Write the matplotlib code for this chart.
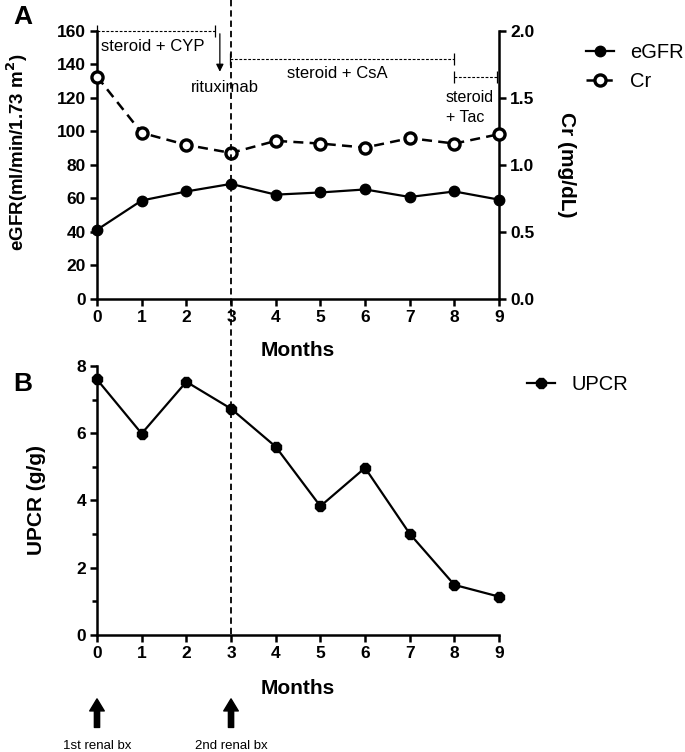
import numpy as np
import matplotlib
matplotlib.use("Agg")
import matplotlib.pyplot as plt
import matplotlib.transforms as mtransforms
from matplotlib.lines import Line2D
from matplotlib.ticker import MultipleLocator, FormatStrFormatter

plt.rcParams['font.family'] = ['Liberation Sans', 'DejaVu Sans']

# data
months = [0, 1, 2, 3, 4, 5, 6, 7, 8, 9]
egfr = [41.3, 58.8, 64.2, 68.7, 62.3, 63.6, 65.4, 60.9, 64.2, 59.3]
cr = [1.66, 1.24, 1.15, 1.09, 1.18, 1.16, 1.13, 1.20, 1.16, 1.23]
upcr = [7.6, 5.99, 7.53, 6.73, 5.6, 3.83, 4.97, 3.01, 1.49, 1.14]
biopsy_months = [0, 3]
biopsy_labels = ["1st renal bx", "2nd renal bx"]

fig = plt.figure(figsize=(6.85, 7.52), dpi=100)
ax1 = fig.add_axes([0.1416, 0.6024, 0.587, 0.3564])
ax2 = fig.add_axes([0.1416, 0.1556, 0.587, 0.3577])
ax1r = ax1.twinx()

def style_axis(ax, right=False):
    for s in ['top'] + ([] if right else ['right']):
        ax.spines[s].set_visible(False)
    for s in ['left', 'bottom', 'right']:
        ax.spines[s].set_linewidth(1.8)
    ax.tick_params(which='major', direction='out', length=5, width=1.8,
                   labelsize=12.5, pad=3)
    ax.tick_params(which='minor', direction='out', length=3.5, width=1.8)
    for lab in ax.get_xticklabels() + ax.get_yticklabels():
        lab.set_fontweight('bold')

# ---- panel A
ax1.plot(months, egfr, color='k', lw=1.6, marker='o', ms=7.5, clip_on=False,
         zorder=5, label='eGFR')
ax1r.plot(months, cr, color='k', lw=1.8, ls=(0, (4, 2.5)), marker='o', ms=8,
          mfc='white', mew=2.4, clip_on=False, zorder=5, label='Cr')
ax1.set_xlim(0, 9)
ax1.set_ylim(0, 160)
ax1r.set_ylim(0, 2.0)
ax1.set_xticks(months)
ax1.set_yticks(np.arange(0, 161, 20))
ax1r.set_yticks(np.arange(0, 2.01, 0.5))
ax1r.yaxis.set_major_formatter(FormatStrFormatter('%.1f'))
ax1r.spines['left'].set_visible(False)
ax1r.spines['bottom'].set_visible(False)
style_axis(ax1)
style_axis(ax1r, right=True)
ax1r.spines['right'].set_linewidth(1.8)

ax1.set_xlabel('Months', fontsize=15, fontweight='bold')
ax1.xaxis.set_label_coords(0.5, -0.155)
ax1.set_ylabel('eGFR(ml/min/1.73 m$^\\mathbf{2}$)', fontsize=13.5, fontweight='bold')
ax1.yaxis.set_label_coords(-0.167, 0.549)
ax1r.set_ylabel('Cr (mg/dL)', fontsize=15, fontweight='bold', rotation=-90,
                va='bottom')
ax1r.yaxis.set_label_coords(1.145, 0.5)

# treatment bars
dash = (0, (2.5, 1.5))
def period(x0, x1, y):
    ax1.plot([x0, x1], [y, y], color='k', lw=0.8, ls=dash, clip_on=False)
    ax1.plot([x0, x1], [y, y], ls='none', marker='|', ms=8, mew=0.9,
             color='k', clip_on=False)

period(0, 2.64, 160)
ax1.text(0.09, 150.5, 'steroid + CYP', fontsize=12, va='center', ha='left')
ax1.annotate('', xy=(2.75, 134), xytext=(2.75, 160),
             arrowprops=dict(arrowstyle='-|>', color='k', lw=0.9,
                             mutation_scale=11), annotation_clip=False)
ax1.text(2.87, 126, 'rituximab', fontsize=12, va='center', ha='center')
period(2.98, 7.99, 143.5)
ax1.text(5.38, 134.5, 'steroid + CsA', fontsize=12, va='center', ha='center')
period(7.99, 8.95, 132.7)
ax1.text(7.81, 124.5, 'steroid\n+ Tac', fontsize=11.5, va='top', ha='left',
         linespacing=1.35)

h_egfr = Line2D([], [], color='k', lw=1.6, marker='o', ms=7.5)
h_cr = Line2D([], [], color='k', lw=1.8, ls=(0, (4, 2.5)), marker='o', ms=8,
              mfc='white', mew=2.4)
fig.legend([h_egfr, h_cr], ['eGFR', 'Cr'], loc='upper left',
           bbox_to_anchor=(0.8286, 0.967), frameon=False, fontsize=14.5,
           handlelength=1.4, handletextpad=0.8, labelspacing=0.5)

# ---- panel B
ax2.plot(months, upcr, color='k', lw=1.6, marker='8', ms=7.5, clip_on=False,
         zorder=5, label='UPCR')
ax2.set_xlim(0, 9)
ax2.set_ylim(0, 8)
ax2.set_xticks(months)
ax2.yaxis.set_major_locator(MultipleLocator(2))
ax2.yaxis.set_minor_locator(MultipleLocator(1))
style_axis(ax2)
ax2.set_xlabel('Months', fontsize=15, fontweight='bold')
ax2.xaxis.set_label_coords(0.5, -0.165)
ax2.set_ylabel('UPCR (g/g)', fontsize=15, fontweight='bold')
ax2.yaxis.set_label_coords(-0.127, 0.5)
fig.legend(loc='upper left', handles=ax2.get_lines(), labels=['UPCR'],
           bbox_to_anchor=(0.743, 0.525), frameon=False, fontsize=14.5,
           handlelength=1.4, handletextpad=0.8)

for m, lab in zip(biopsy_months, biopsy_labels):
    ax2.annotate('', xy=(m, -1.9), xytext=(m, -2.75),
                 arrowprops=dict(arrowstyle='simple,head_length=0.62,head_width=0.75,tail_width=0.27',
                                 color='k', mutation_scale=14, shrinkA=0, shrinkB=0),
                 annotation_clip=False)
    ax2.text(m, -3.3, lab, fontsize=9.5, ha='center', va='center', clip_on=False)

# vertical dashed line at month 3 spanning both panels
trans = mtransforms.blended_transform_factory(ax1.transData, fig.transFigure)
fig.add_artist(Line2D([3, 3], [1.0, 1 - 635 / 752], transform=trans,
                      color='k', lw=1.3, ls=(0, (3.5, 2.2))))

fig.text(0.019, 0.978, 'A', fontsize=19, fontweight='bold', va='center')
fig.text(0.019, 0.489, 'B', fontsize=19, fontweight='bold', va='center')

fig.savefig('out.png', dpi=100)
